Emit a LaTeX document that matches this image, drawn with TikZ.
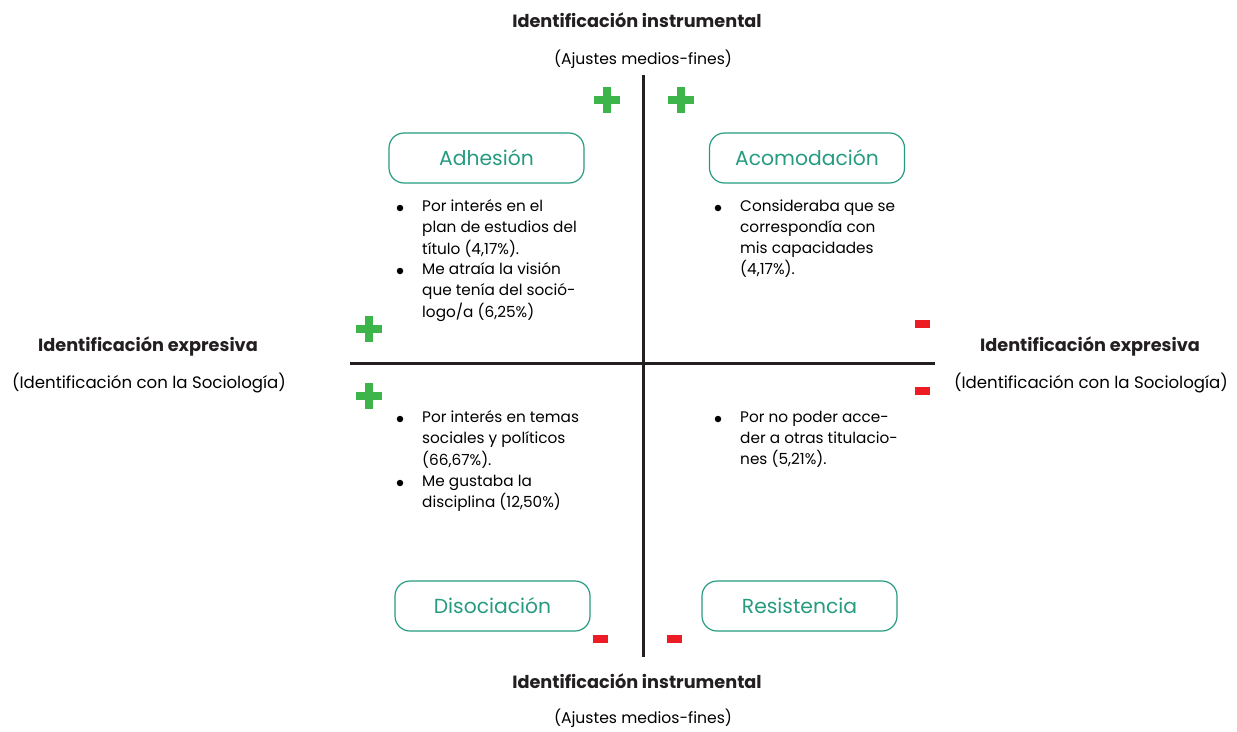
\documentclass[tikz,border=0pt]{standalone}
\usepackage{fontspec}
\setmainfont{Poppins}
\begin{document}
\begin{tikzpicture}[x=1pt,y=-1pt,
  title/.style={font=\bfseries\fontsize{17.7}{20}\selectfont,text=axis,inner sep=0pt},
  sub/.style={font=\fontsize{15.6}{18}\selectfont,text=black,inner sep=0pt},
  sidesub/.style={font=\fontsize{16.6}{18}\selectfont,text=black,inner sep=0pt},
  catbox/.style={draw=teal,line width=1.2pt,rounded corners=15pt,minimum width=195pt,minimum height=50pt,text=teal,font=\fontsize{20.3}{22}\selectfont},
  items/.style={font=\fontsize{15.3}{21.2}\selectfont,align=left,anchor=north west,inner sep=0pt,text=black},
  bul/.style={circle,fill=black,inner sep=0pt,minimum size=6.5pt},
  axisline/.style={draw=axis,line width=3pt}
]
\definecolor{teal}{RGB}{38,155,128}
\definecolor{axis}{RGB}{35,31,32}
\definecolor{pgreen}{RGB}{61,181,74}
\definecolor{mred}{RGB}{237,28,36}
\useasboundingbox (0,0) rectangle (1237,731);
\tikzset{
  plusmark/.pic={\fill[pgreen] (-13,-4) rectangle (13,4); \fill[pgreen] (-4,-13) rectangle (4,13);},
  minusmark/.pic={\fill[mred] (-7.5,-4) rectangle (7.5,4);}
}
% axes
\coordinate (vt) at (643,75); \coordinate (vb) at (643,657);
\coordinate (hl) at (350,363); \coordinate (hr) at (935,363);
\draw[axisline] (vt) -- (vb);
\draw[axisline] (hl) -- (hr);
% titles
\node[title] (tt) at (637,20) {Identificación instrumental};
\node[sub] (ts) at (643,59) {(Ajustes medios-fines)};
\node[title] (bt) at (637,681) {Identificación instrumental};
\node[sub] (bs) at (643,718) {(Ajustes medios-fines)};
\node[title] (lt) at (148,346) {Identificación expresiva};
\node[sidesub] (ls) at (149,383) {(Identificación con la Sociología)};
\node[title] (rt) at (1090,346) {Identificación expresiva};
\node[sidesub] (rs) at (1091,383) {(Identificación con la Sociología)};
% boxes
\node[catbox] (adh) at (486.5,158) {\raisebox{-1.5pt}{Adhesión}};
\node[catbox] (aco) at (807,158) {\raisebox{-1.5pt}{Acomodación}};
\node[catbox] (dis) at (492.5,606) {\raisebox{-1.5pt}{Disociación}};
\node[catbox] (res) at (799.5,606) {\raisebox{-1.5pt}{Resistencia}};
% plus / minus
\pic at (607,100) {plusmark};
\pic at (681,100) {plusmark};
\pic at (369,329) {plusmark};
\pic at (369,396) {plusmark};
\pic at (922,324) {minusmark};
\pic at (922,391) {minusmark};
\pic at (600,639) {minusmark};
\pic at (674,639) {minusmark};
% lists
\node[items] (l1) at (422,199.5) {Por interés en el\\plan de estudios del\\título (4,17\%).};
\node[bul] (b1) at (400,208) {};
\node[items] (l2) at (422,262.5) {Me atraía la visión\\que tenía del soció-\\logo/a (6,25\%)};
\node[bul] (b2) at (400,271) {};
\node[items] (r1) at (740,199.5) {Consideraba que se\\correspondía con\\mis capacidades\\(4,17\%).};
\node[bul] (b3) at (718,208) {};
\node[items] (l3) at (422,410.5) {Por interés en temas\\sociales y políticos\\(66,67\%).};
\node[bul] (b4) at (400,419) {};
\node[items] (l4) at (422,474.5) {Me gustaba la\\disciplina (12,50\%)};
\node[bul] (b5) at (400,483) {};
\node[items] (r2) at (740,410.5) {Por no poder acce-\\der a otras titulacio-\\nes (5,21\%).};
\node[bul] (b6) at (718,419) {};
\end{tikzpicture}
\end{document}
